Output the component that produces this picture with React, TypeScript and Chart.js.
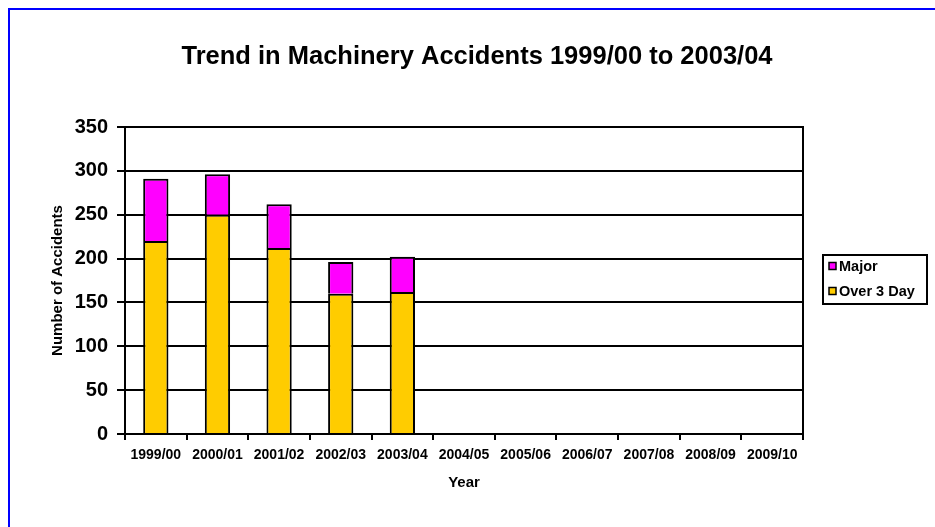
import { useEffect, useRef } from 'react';
import { Chart, registerables } from 'chart.js';

Chart.register(...registerables);

const FONT = '"Liberation Sans", Arial, Helvetica, sans-serif';

const chartTitle = 'Trend in Machinery Accidents 1999/00 to 2003/04';
const years = [
  '1999/00', '2000/01', '2001/02', '2002/03', '2003/04', '2004/05',
  '2005/06', '2006/07', '2007/08', '2008/09', '2009/10',
];
const overThreeDay = [220, 250, 212, 160, 162];
const major = [71, 46, 50, 36, 40];
const yMin = 0;
const yMax = 350;
const yStep = 50;

const MAJOR_COLOR = '#FF00FF';
const OVER3_COLOR = '#FFCC00';

// Title, plot frame and boxed legend drawn straight onto the canvas
const decorPlugin = {
  id: 'decor',
  beforeDatasetsDraw(chart: Chart) {
    const { ctx, chartArea } = chart;
    ctx.save();
    ctx.strokeStyle = '#000';
    ctx.lineWidth = 2;
    ctx.beginPath();
    ctx.moveTo(chartArea.left, chartArea.top);
    ctx.lineTo(chartArea.right, chartArea.top);
    ctx.lineTo(chartArea.right, chartArea.bottom);
    ctx.stroke();
    ctx.restore();
  },
  afterDraw(chart: Chart) {
    const { ctx } = chart;
    ctx.save();
    // chart title
    ctx.fillStyle = '#000';
    ctx.font = `bold 25.5px ${FONT}`;
    ctx.textAlign = 'center';
    ctx.textBaseline = 'middle';
    ctx.fillText(chartTitle, 477, 57);

    // legend frame
    ctx.strokeStyle = '#000';
    ctx.lineWidth = 2;
    ctx.strokeRect(823, 255, 104, 49);

    // legend entries, top series first
    const ds = chart.data.datasets;
    const entries = [ds[1], ds[0]];
    entries.forEach((d, i) => {
      const cy = 266 + i * 25;
      ctx.fillStyle = d.backgroundColor as string;
      ctx.fillRect(829, cy - 3.5, 7, 7);
      ctx.lineWidth = 1.5;
      ctx.strokeRect(829, cy - 3.5, 7, 7);
      ctx.fillStyle = '#000';
      ctx.font = `bold 14.5px ${FONT}`;
      ctx.textAlign = 'left';
      ctx.textBaseline = 'middle';
      ctx.fillText(d.label as string, 839, cy + 0.5);
    });
    ctx.restore();
  },
};

export default function App() {
  const canvasRef = useRef<HTMLCanvasElement>(null);

  useEffect(() => {
    const canvas = canvasRef.current;
    if (!canvas) return;
    const chart = new Chart(canvas, {
      type: 'bar',
      data: {
        labels: years,
        datasets: [
          {
            label: 'Over 3 Day',
            data: overThreeDay,
            backgroundColor: OVER3_COLOR,
            borderColor: '#000',
            borderWidth: 2,
            barPercentage: 0.41,
            categoryPercentage: 1,
          },
          {
            label: 'Major',
            data: major,
            backgroundColor: MAJOR_COLOR,
            borderColor: '#000',
            borderWidth: 2,
            barPercentage: 0.41,
            categoryPercentage: 1,
          },
        ],
      },
      options: {
        responsive: false,
        animation: false,
        layout: { padding: { top: 127, right: 132, left: 0, bottom: 0 } },
        plugins: {
          legend: { display: false },
          title: { display: false },
          tooltip: { enabled: false },
        },
        scales: {
          x: {
            stacked: true,
            offset: true,
            afterFit: (s: any) => {
              s.height = 93;
            },
            grid: {
              display: true,
              offset: true,
              drawOnChartArea: false,
              drawTicks: true,
              tickLength: 6,
              color: '#000',
              lineWidth: 2,
            },
            border: { display: true, color: '#000', width: 2 },
            ticks: {
              color: '#000',
              font: { family: FONT, size: 14, weight: 'bold' },
              maxRotation: 0,
              autoSkip: false,
              padding: 7,
            },
            title: {
              display: true,
              text: 'Year',
              color: '#000',
              font: { family: FONT, size: 15, weight: 'bold' },
              padding: { top: 0, bottom: 35 },
            },
          },
          y: {
            stacked: true,
            min: yMin,
            max: yMax,
            afterFit: (s: any) => {
              s.width = 125;
            },
            grid: {
              color: '#000',
              lineWidth: 2,
              drawTicks: true,
              tickLength: 8,
            },
            border: { display: true, color: '#000', width: 2 },
            ticks: {
              stepSize: yStep,
              color: '#000',
              font: { family: FONT, size: 20, weight: 'bold' },
              padding: 9,
            },
            title: {
              display: true,
              text: 'Number of Accidents',
              color: '#000',
              font: { family: FONT, size: 15, weight: 'bold' },
              padding: { top: 49, bottom: 0 },
            },
          },
        },
      },
      plugins: [decorPlugin],
    });
    return () => chart.destroy();
  }, []);

  return (
    <div
      style={{
        position: 'fixed',
        left: 0,
        top: 0,
        width: 935,
        height: 527,
        overflow: 'hidden',
        background: '#fff',
      }}
    >
      <div
        style={{
          position: 'absolute',
          left: 8,
          top: 8,
          width: 1200,
          height: 1200,
          borderLeft: '2px solid #0000FF',
          borderTop: '2px solid #0000FF',
        }}
      />
      <canvas
        ref={canvasRef}
        width={935}
        height={527}
        style={{ position: 'absolute', left: 0, top: 0, width: 935, height: 527 }}
      />
    </div>
  );
}
